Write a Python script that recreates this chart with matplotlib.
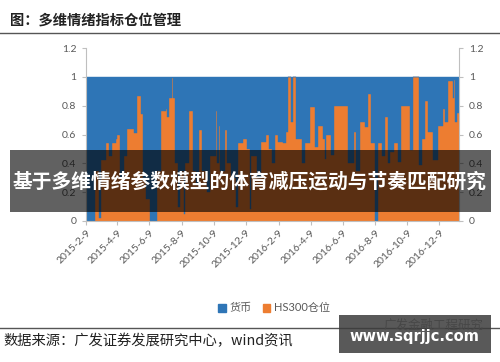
import pandas as pd
import matplotlib
matplotlib.use('Agg')
import matplotlib.pyplot as plt
from matplotlib.patches import Rectangle, Patch

plt.rcParams['font.family'] = ['Lato', 'Noto Sans CJK SC', 'DejaVu Sans']

AZUL = '#2E75B6'
NARANJA = '#ED7D31'
GRIS = '#595959'

# Fechas donde cambia la posición HS300 (el resto es 货币)
fechas = [
    '2015-02-09', '2015-02-26', '2015-03-05', '2015-03-09', '2015-03-18', '2015-03-24',
    '2015-03-30', '2015-04-06', '2015-04-08', '2015-04-14', '2015-04-22', '2015-04-27',
    '2015-05-10', '2015-05-16', '2015-05-24', '2015-05-28', '2015-06-02', '2015-06-10',
    '2015-06-23', '2015-07-01', '2015-07-10', '2015-07-12', '2015-07-16', '2015-07-21',
    '2015-07-23', '2015-07-27', '2015-08-02', '2015-08-06', '2015-08-14', '2015-08-15',
    '2015-08-23', '2015-08-31', '2015-09-05', '2015-09-11', '2015-09-17', '2015-09-26',
    '2015-10-01', '2015-10-13', '2015-10-15', '2015-10-19', '2015-10-21', '2015-10-30',
    '2015-11-03', '2015-11-10', '2015-11-20', '2015-11-24', '2015-12-03', '2015-12-10',
    '2015-12-16', '2015-12-18', '2015-12-29', '2016-01-06', '2016-01-15', '2016-01-21',
    '2016-01-27', '2016-02-02', '2016-02-08', '2016-02-17', '2016-02-22', '2016-02-26',
    '2016-03-03', '2016-03-07', '2016-03-12', '2016-03-24', '2016-03-29', '2016-04-08',
    '2016-04-17', '2016-04-23', '2016-05-02', '2016-05-06', '2016-05-08', '2016-05-18',
    '2016-05-23', '2016-06-19', '2016-06-30', '2016-07-04', '2016-07-12', '2016-07-21',
    '2016-07-27', '2016-08-01', '2016-08-09', '2016-08-15', '2016-08-22', '2016-08-28',
    '2016-09-03', '2016-09-06', '2016-09-14', '2016-09-21', '2016-09-27', '2016-10-14',
    '2016-10-20', '2016-10-31', '2016-11-06', '2016-11-12', '2016-11-17', '2016-11-27',
    '2016-12-06', '2016-12-16', '2016-12-20', '2016-12-25', '2017-01-04', '2017-01-06',
    '2017-01-08', '2017-01-11',
]
hs300 = [
    0.00, 0.35, 0.02, 0.42, 0.54, 0.45,
    0.54, 0.57, 0.60, 0.30, 0.45, 0.64,
    0.61, 0.87, 0.74, 0.30, 0.15, 0.00,
    0.35, 0.76, 0.78, 0.72, 0.85, 0.99,
    0.85, 0.40, 0.10, 0.35, 0.05, 0.40,
    0.76, 0.35, 0.25, 0.63, 0.35, 0.20,
    0.45, 0.76, 0.40, 0.66, 0.35, 0.63,
    0.40, 0.30, 0.10, 0.54, 0.57, 0.50,
    0.08, 0.45, 0.30, 0.55, 0.60, 0.50,
    0.40, 0.60, 0.55, 0.54, 0.62, 1.00,
    0.69, 1.00, 0.57, 0.40, 0.54, 0.79,
    0.51, 0.66, 0.57, 0.43, 0.60, 0.46,
    0.80, 0.40, 0.62, 0.35, 0.69, 0.65,
    0.88, 0.54, 0.00, 0.54, 0.45, 0.72,
    0.40, 0.48, 0.54, 0.41, 0.80, 0.49,
    1.00, 0.39, 0.57, 0.83, 0.62, 0.42,
    0.66, 0.78, 0.69, 0.97, 0.85, 0.98,
    0.69, 0.75,
]
fecha_fin = '2017-01-15'

tick_labels = ['2015-2-9', '2015-4-9', '2015-6-9', '2015-8-9', '2015-10-9', '2015-12-9',
               '2016-2-9', '2016-4-9', '2016-6-9', '2016-8-9', '2016-10-9', '2016-12-9']
y_ticks = [0, 0.2, 0.4, 0.6, 0.8, 1, 1.2]
y_labels = ['0', '0.2', '0.4', '0.6', '0.8', '1', '1.2']

x = pd.to_datetime(fechas + [fecha_fin])
y = hs300 + [hs300[-1]]

fig = plt.figure(figsize=(5.0, 3.62), dpi=100)
ax = fig.add_axes([86 / 500, 141 / 362, 373 / 500, 173 / 362])

ax.fill_between(x, 0, y, step='post', color=NARANJA, lw=0.3, ec=NARANJA)
ax.fill_between(x, y, 1, step='post', color=AZUL, lw=0.3, ec=AZUL)

ax.set_xlim(x[0], x[-1])
ax.set_ylim(0, 1.2)
ax.set_yticks(y_ticks)
ax.set_yticklabels(y_labels)
ax.set_xticks(pd.to_datetime(tick_labels))
ax.set_xticklabels(tick_labels, rotation=45, ha='right', rotation_mode='anchor')

for s in ['left', 'right', 'bottom']:
    ax.spines[s].set_color('#BFBFBF')
    ax.spines[s].set_linewidth(0.8)
ax.spines['top'].set_visible(False)
ax.tick_params(axis='y', which='both', left=True, right=True, labelleft=True, labelright=True,
               length=3, color='#BFBFBF', labelsize=7.5, labelcolor=GRIS, pad=4)
ax.tick_params(axis='x', length=3, color='#BFBFBF', labelsize=7.5, labelcolor=GRIS, pad=2)

# Leyenda
handles = [Patch(color=AZUL, label='货币'), Patch(color=NARANJA, label='HS300仓位')]
fig.legend(handles=handles, loc='center', bbox_to_anchor=(274 / 500, 1 - 308 / 362), ncol=2,
           frameon=False, fontsize=8, labelcolor=GRIS, handlelength=0.7, handleheight=0.7,
           handletextpad=0.3, columnspacing=1.0)

# Título y fuente
fig.text(10 / 500, 1 - 21 / 362, '图：多维情绪指标仓位管理', fontsize=10.3, color='#222222',
         va='center', ha='left', family=['Noto Sans CJK SC'], weight='bold')
fig.add_artist(plt.Line2D([0, 1], [1 - 33 / 362, 1 - 33 / 362], color='#555555', lw=1))
fig.add_artist(plt.Line2D([0, 1], [1 - 328 / 362, 1 - 328 / 362], color='#555555', lw=1))
fig.text(3 / 500, 1 - 341 / 362, '数据来源：广发证券发展研究中心，wind资讯', fontsize=10.3,
         color='#222222', va='center', ha='left', family=['Noto Sans CJK SC'])
fig.text(484 / 500, 1 - 325 / 362, '广发金融工程研究', fontsize=9, color='#888888',
         va='center', ha='right', family=['Noto Sans CJK SC'])

# Banda superpuesta
fig.add_artist(Rectangle((10 / 500, 1 - 212 / 362), 481 / 500, 62 / 362,
                         transform=fig.transFigure, color='black', alpha=0.62, lw=0, zorder=10))
fig.text(250 / 500, 1 - 182 / 362, '基于多维情绪参数模型的体育减压运动与节奏匹配研究',
         fontsize=14.2, color='white', weight='bold', ha='center', va='center',
         family=['Noto Sans CJK SC'], zorder=11)

# Marca de agua
fig.add_artist(Rectangle((339 / 500, 1 - 353 / 362), 152 / 500, 38 / 362,
                         transform=fig.transFigure, color='#3C3C3C', alpha=0.85, lw=0, zorder=10))
fig.text(414 / 500, 1 - 337 / 362, 'www.sqrjjc.com', fontsize=10.5, color='white',
         weight='bold', ha='center', va='center', family=['DejaVu Sans'], zorder=11)

fig.savefig('out.png', dpi=100)
